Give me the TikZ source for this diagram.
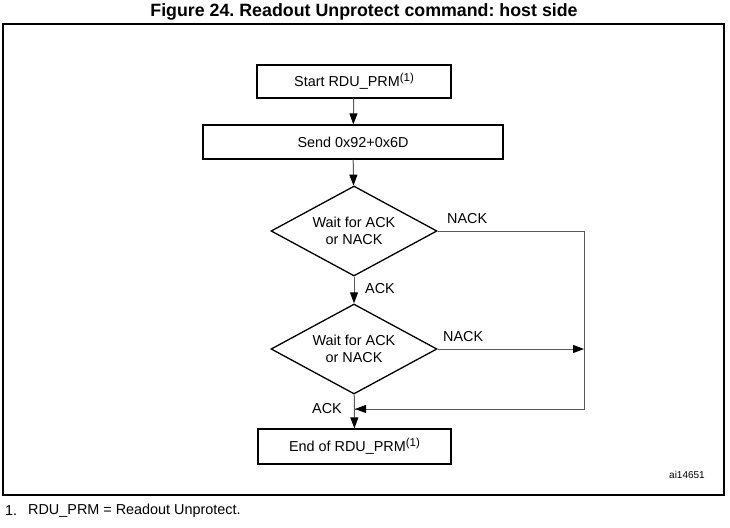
\documentclass[tikz,border=0pt]{standalone}
\usepackage{fontspec}
\setmainfont{Liberation Sans}
\usetikzlibrary{shapes.geometric,arrows.meta}
\frenchspacing
\newcommand{\fnmk}{\raisebox{5.5pt}{\fontsize{11.5}{12}\selectfont(1)}}
\tikzset{
  box/.style={draw=black,line width=1.3pt,inner sep=0pt,font=\fontsize{14.4}{16}\selectfont},
  dia/.style={draw=black,line width=1.3pt,diamond,aspect=2,inner sep=0pt,minimum width=166pt,minimum height=90pt,align=center,font=\fontsize{14.4}{17}\selectfont},
  conn/.style={draw=black!65,line width=1pt},
  arr/.style={conn,-{Triangle[length=11pt,width=8pt,color=black]}},
  lbl/.style={font=\fontsize{14.4}{16}\selectfont,inner sep=0pt}
}
\begin{document}
\begin{tikzpicture}[x=1pt,y=-1pt]
\useasboundingbox (0,0) rectangle (730,527);
\node[font=\bfseries\fontsize{17.8}{19}\selectfont,inner sep=0pt] (title) at (364,12) {Figure 24. Readout Unprotect command: host side};
\draw[line width=1.3pt] (3,24) rectangle (724,495);
\node[box,minimum width=194pt,minimum height=33pt] (start) at (354,81.5) {Start RDU\_PRM\fnmk};
\node[box,minimum width=300pt,minimum height=34pt] (send) at (353,142) {Send 0x92+0x6D};
\node[dia] (d1) at (354,231) {Wait for ACK\\or NACK};
\node[dia] (d2) at (354,349) {Wait for ACK\\or NACK};
\node[box,minimum width=193pt,minimum height=35pt] (end) at (354.5,446.5) {End of RDU\_PRM\fnmk};
\coordinate (corner) at (584,231);
\coordinate (mid) at (584,349);
\coordinate (join) at (354,409);
\draw[arr] (start) -- (send);
\draw[arr] (send) -- (d1);
\draw[arr] (d1) -- (d2);
\draw[arr] (d2) -- (end);
\draw[conn] (d1.east) -- (corner) |- (join);
\draw[arr] (corner) |- ([xshift=1pt]join);
\draw[arr] (d2.east) -- (mid);
\node[lbl,anchor=west] (ack1) at (365,289) {ACK};
\node[lbl,anchor=east] (ack2) at (342,409) {ACK};
\node[lbl,anchor=west] (nack1) at (447,219) {NACK};
\node[lbl,anchor=west] (nack2) at (443,337) {NACK};
\node[font=\fontsize{10}{12}\selectfont,inner sep=0pt] (ai) at (687,475) {ai14651};
\node[lbl,anchor=west] (fn1) at (5,511) {1.};
\node[lbl,anchor=west] (fn2) at (28,511) {RDU\_PRM = Readout Unprotect.};
\end{tikzpicture}
\end{document}
